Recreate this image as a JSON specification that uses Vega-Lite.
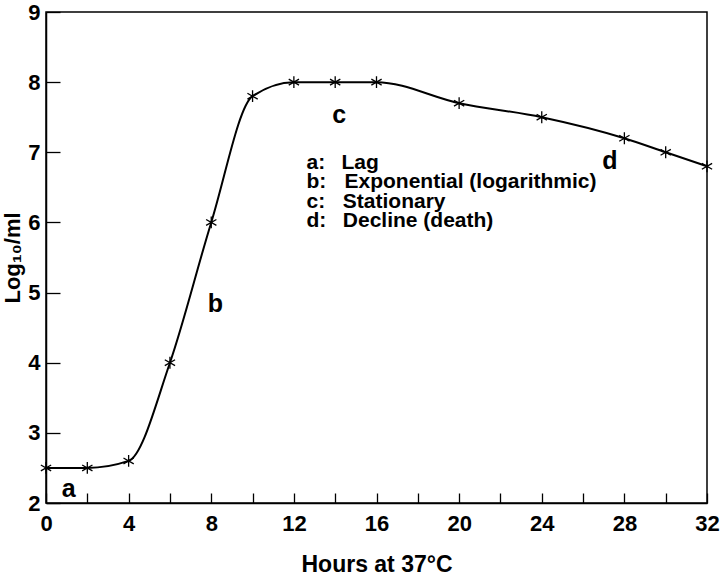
{
  "$schema": "https://vega.github.io/schema/vega-lite/v6.json",
  "width": 661,
  "height": 491,
  "autosize": {"type": "none"},
  "padding": {"left": 46, "top": 12, "right": 16, "bottom": 74},
  "config": {
    "font": "Liberation Sans",
    "view": {"stroke": "black", "strokeWidth": 1.5},
    "axis": {
      "domainColor": "black",
      "domainWidth": 1.5,
      "tickColor": "black",
      "tickWidth": 1.3,
      "grid": false,
      "labelFlush": false,
      "labelOverlap": false,
      "labelFont": "Liberation Sans",
      "labelFontWeight": "bold",
      "labelFontSize": 22,
      "labelColor": "black",
      "titleFont": "Liberation Sans",
      "titleFontWeight": "bold",
      "titleFontSize": 23,
      "titleColor": "black"
    }
  },
  "datasets": {
    "growth": [
      {"hours": 0, "log": 2.5},
      {"hours": 2, "log": 2.5},
      {"hours": 4, "log": 2.6},
      {"hours": 6, "log": 4.0},
      {"hours": 8, "log": 6.0},
      {"hours": 10, "log": 7.8},
      {"hours": 12, "log": 8.0},
      {"hours": 14, "log": 8.0},
      {"hours": 16, "log": 8.0},
      {"hours": 20, "log": 7.7},
      {"hours": 24, "log": 7.5},
      {"hours": 28, "log": 7.2},
      {"hours": 30, "log": 7.0},
      {"hours": 32, "log": 6.8}
    ],
    "phases": [
      {"hours": 1.1, "log": 2.2, "label": "a"},
      {"hours": 8.2, "log": 4.84, "label": "b"},
      {"hours": 14.2, "log": 7.53, "label": "c"},
      {"hours": 27.3, "log": 6.87, "label": "d"}
    ],
    "legend": [
      {"hours": 12.61, "hours2": 14.3, "log": 6.766, "key": "a:", "desc": "Lag"},
      {"hours": 12.61, "hours2": 14.45, "log": 6.49, "key": "b:", "desc": "Exponential (logarithmic)"},
      {"hours": 12.61, "hours2": 14.37, "log": 6.21, "key": "c:", "desc": "Stationary"},
      {"hours": 12.61, "hours2": 14.37, "log": 5.94, "key": "d:", "desc": "Decline (death)"}
    ]
  },
  "layer": [
    {
      "data": {"name": "growth"},
      "mark": {"type": "line", "interpolate": "monotone", "color": "black", "strokeWidth": 2},
      "encoding": {
        "x": {
          "field": "hours", "type": "quantitative",
          "scale": {"domain": [0, 32], "nice": false},
          "axis": {
            "title": "Hours at 37°C",
            "values": [0, 2, 4, 6, 8, 10, 12, 14, 16, 18, 20, 22, 24, 26, 28, 30, 32],
            "labelExpr": "datum.value % 4 == 0 ? datum.label : ''",
            "tickSize": -10,
            "labelPadding": 20,
            "titlePadding": 19
          }
        },
        "y": {
          "field": "log", "type": "quantitative",
          "scale": {"domain": [2, 9], "nice": false, "zero": false},
          "axis": {
            "title": "Log₁₀/ml",
            "titleFontSize": 22,
            "format": "d",
            "values": [2, 3, 4, 5, 6, 7, 8, 9],
            "tickSize": -14,
            "labelPadding": 20,
            "titlePadding": 3
          }
        }
      }
    },
    {
      "data": {"name": "growth"},
      "mark": {
        "type": "point",
        "shape": "M0,-1L0,1M-0.87,-0.5L0.87,0.5M-0.87,0.5L0.87,-0.5",
        "filled": false,
        "color": "black",
        "strokeWidth": 1.3,
        "size": 140,
        "opacity": 1
      },
      "encoding": {
        "x": {"field": "hours", "type": "quantitative"},
        "y": {"field": "log", "type": "quantitative"}
      }
    },
    {
      "data": {"name": "phases"},
      "mark": {"type": "text", "font": "Liberation Sans", "fontWeight": "bold", "fontSize": 25, "color": "black", "baseline": "middle", "align": "center"},
      "encoding": {
        "x": {"field": "hours", "type": "quantitative"},
        "y": {"field": "log", "type": "quantitative"},
        "text": {"field": "label"}
      }
    },
    {
      "data": {"name": "legend"},
      "mark": {"type": "text", "font": "Liberation Sans", "fontWeight": "bold", "fontSize": 21, "color": "black", "baseline": "alphabetic", "align": "left"},
      "encoding": {
        "x": {"field": "hours", "type": "quantitative"},
        "y": {"field": "log", "type": "quantitative"},
        "text": {"field": "key"}
      }
    },
    {
      "data": {"name": "legend"},
      "mark": {"type": "text", "font": "Liberation Sans", "fontWeight": "bold", "fontSize": 21, "color": "black", "baseline": "alphabetic", "align": "left"},
      "encoding": {
        "x": {"field": "hours2", "type": "quantitative"},
        "y": {"field": "log", "type": "quantitative"},
        "text": {"field": "desc"}
      }
    }
  ]
}
